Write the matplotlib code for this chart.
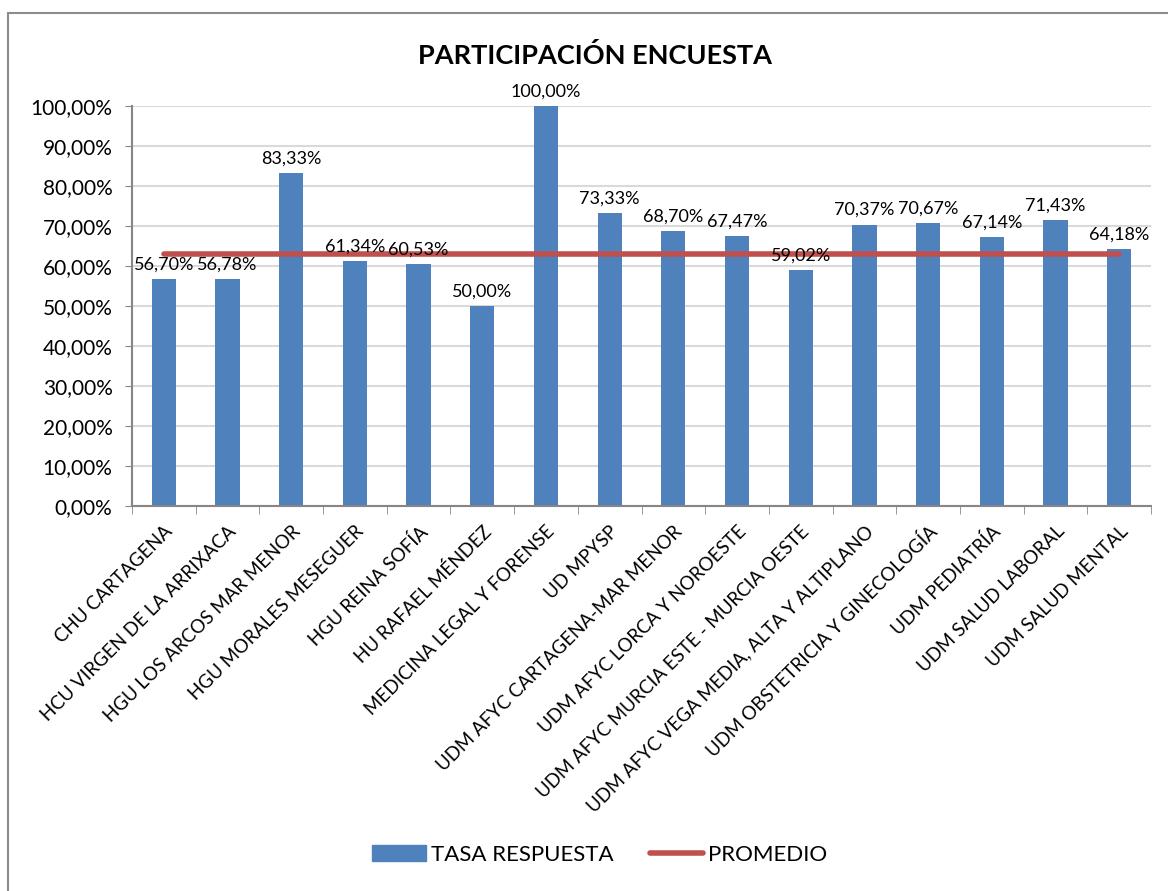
import matplotlib.pyplot as plt
import matplotlib.patches as mpatches
import numpy as np

categories = [
    'CHU CARTAGENA', 'HCU VIRGEN DE LA ARRIXACA', 'HGU LOS ARCOS MAR MENOR',
    'HGU MORALES MESEGUER', 'HGU REINA SOFÍA', 'HU RAFAEL MÉNDEZ',
    'MEDICINA LEGAL Y FORENSE', 'UD MPYSP', 'UDM AFYC CARTAGENA-MAR MENOR',
    'UDM AFYC LORCA Y NOROESTE', 'UDM AFYC MURCIA ESTE - MURCIA OESTE',
    'UDM AFYC VEGA MEDIA, ALTA Y ALTIPLANO', 'UDM OBSTETRICIA Y GINECOLOGÍA',
    'UDM PEDIATRÍA', 'UDM SALUD LABORAL', 'UDM SALUD MENTAL',
]
tasa = [56.70, 56.78, 83.33, 61.34, 60.53, 50.00, 100.00, 73.33,
        68.70, 67.47, 59.02, 70.37, 70.67, 67.14, 71.43, 64.18]
promedio = 63.0
yticks = list(range(0, 101, 10))

plt.rcParams['font.family'] = ['Lato', 'DejaVu Sans']

W, H = 1168, 891
fig = plt.figure(figsize=(W / 100, H / 100), dpi=100)

# chart border like the spreadsheet frame
fig.patches.append(mpatches.Rectangle((8 / W, 0 - 0.01), 1.2, (H - 13) / H + 0.01,
                                      transform=fig.transFigure, fill=False,
                                      edgecolor='#8c8c8c', linewidth=1.5))

ax = fig.add_axes([132 / W, 1 - 506 / H, (1151 - 132) / W, 400 / H])

x = np.arange(len(categories))
ax.bar(x, tasa, width=0.38, color='#4F81BD', zorder=2, label='TASA RESPUESTA')
ax.plot(x, [promedio] * len(x), color='#C0504D', linewidth=4,
        solid_capstyle='round', zorder=3, label='PROMEDIO')

for xi, v in zip(x, tasa):
    ax.text(xi, v + 1.6, f'{v:.2f}%'.replace('.', ','), ha='center', va='bottom',
            fontsize=13)

ax.set_xlim(-0.5, len(categories) - 0.5)
ax.set_ylim(0, 100)
ax.set_yticks(yticks)
ax.set_yticklabels([f'{t},00%' for t in yticks], fontsize=15)
ax.yaxis.grid(True, color='#d9d9d9', linewidth=1.5, zorder=0)
ax.tick_params(axis='y', length=5, color='#868686', pad=9)

ax.set_xticks(x)
ax.set_xticklabels(categories, rotation=45, ha='right', rotation_mode='anchor',
                   fontsize=13.5)
ax.tick_params(axis='x', length=0, pad=12)
ax.set_xticks(np.arange(len(categories) + 1) - 0.5, minor=True)
ax.tick_params(axis='x', which='minor', length=6, color='#868686')

for s in ['top', 'right']:
    ax.spines[s].set_visible(False)
for s in ['left', 'bottom']:
    ax.spines[s].set_color('#868686')
    ax.spines[s].set_linewidth(1.5)

fig.text(595 / W, 1 - 55 / H, 'PARTICIPACIÓN ENCUESTA', ha='center', va='center',
         fontsize=19.5, fontweight='bold')

handles = [mpatches.Patch(color='#4F81BD', label='TASA RESPUESTA'),
           plt.Line2D([], [], color='#C0504D', linewidth=4, solid_capstyle='round',
                      label='PROMEDIO')]
fig.legend(handles=handles, loc='center', bbox_to_anchor=(600 / W, 1 - 855 / H),
           ncol=2, frameon=False, fontsize=16, handlelength=2.4, handleheight=0.7,
           columnspacing=1.6, handletextpad=0.25)

fig.savefig('out.png', dpi=100)
